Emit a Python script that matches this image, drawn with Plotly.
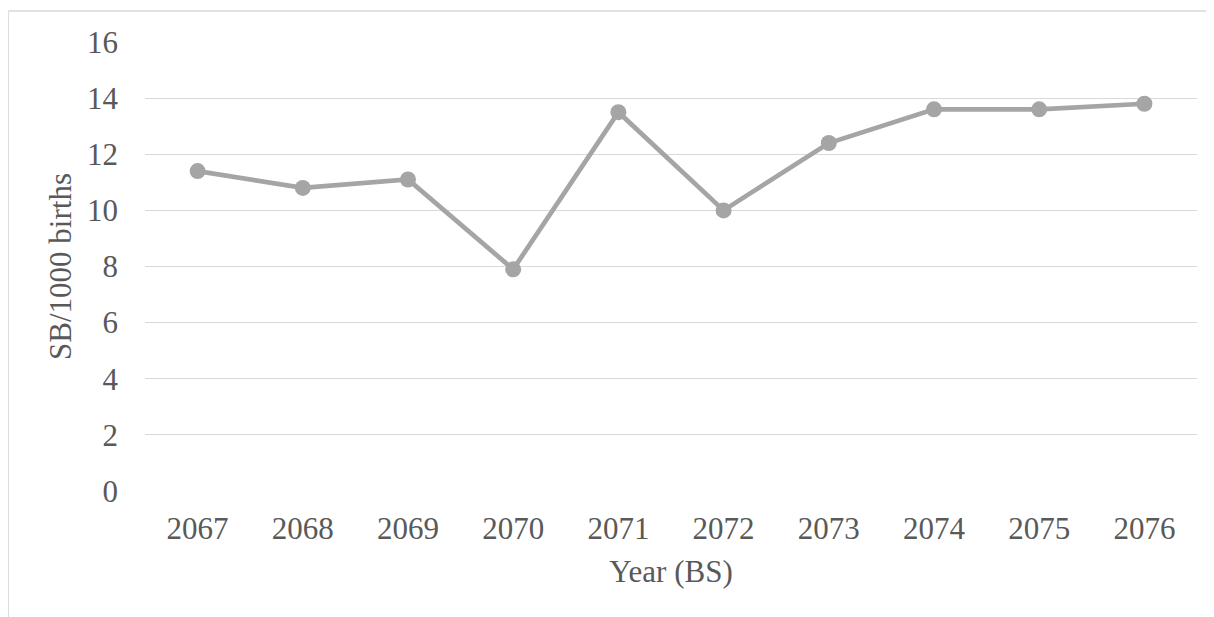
import plotly.graph_objects as go

years = ["2067", "2068", "2069", "2070", "2071", "2072", "2073", "2074", "2075", "2076"]
sb_rate = [11.4, 10.8, 11.1, 7.9, 13.5, 10.0, 12.4, 13.6, 13.6, 13.8]
y_ticks = [0, 2, 4, 6, 8, 10, 12, 14, 16]

W, H = 1214, 617
L, R, T, B = 137, 25, 34, 134
pw, ph = W - L - R, H - T - B

font_family = "Liberation Serif, Times New Roman, serif"
text_color = "#595959"
fs = 31

fig = go.Figure()
fig.add_trace(go.Scatter(
    x=years, y=sb_rate, mode="lines+markers",
    line=dict(color="#A5A5A5", width=4.7),
    marker=dict(color="#A5A5A5", size=16),
    showlegend=False, hoverinfo="x+y",
))

# outer chart border (left and top edges visible)
bx = (0.2 - L) / pw
by = 1 + (T - 3) / ph
fig.add_shape(type="line", xref="paper", yref="paper", x0=bx, x1=bx, y0=-2, y1=by,
              line=dict(color="#D9D9D9", width=1.3))
fig.add_shape(type="line", xref="paper", yref="paper", x0=bx, x1=2, y0=by, y1=by,
              line=dict(color="#D9D9D9", width=1.3))

fig.update_layout(
    width=W, height=H,
    margin=dict(l=L, r=R, t=T, b=B),
    paper_bgcolor="white", plot_bgcolor="white",
    font=dict(family=font_family, size=fs, color=text_color),
    xaxis=dict(
        type="category", range=[-0.5, len(years) - 0.5],
        showgrid=False, showline=False, zeroline=False,
        ticks="", ticklabelstandoff=16,
        title=dict(text="Year (BS)", font=dict(size=fs, color=text_color), standoff=15),
    ),
    yaxis=dict(
        range=[0, 16], tickvals=y_ticks, showgrid=True, gridcolor="#D9D9D9", gridwidth=1.3,
        showline=False, zeroline=False, ticks="", ticklabelstandoff=26,
        title=dict(text="SB/1000 births", font=dict(size=fs, color=text_color), standoff=6),
    ),
)

fig.write_html("out.html")
